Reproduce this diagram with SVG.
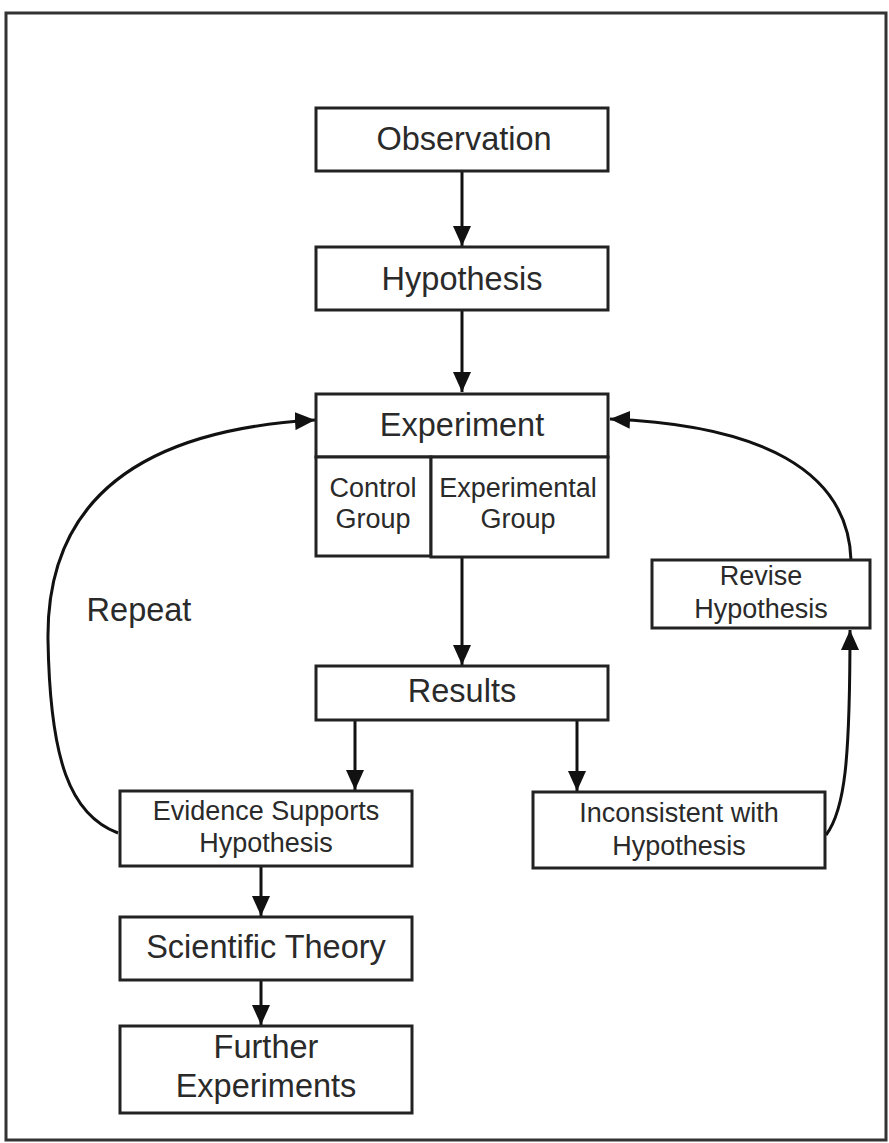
<svg xmlns="http://www.w3.org/2000/svg" width="889" height="1143" viewBox="0 0 889 1143">
<style>
.box{fill:#fff;stroke:#222;stroke-width:3}
.conn{fill:none;stroke:#111;stroke-width:3}
text{font-family:"Liberation Sans",Arial,sans-serif;fill:#2a2a2a;text-anchor:middle}
.big{font-size:32.5px}
.sm{font-size:27px}
</style>
<defs>
<marker id="ah" markerUnits="userSpaceOnUse" markerWidth="22" markerHeight="18" refX="20" refY="9" orient="auto">
<path d="M0,0 L20,9 L0,18 Z" fill="#111"/>
</marker>
</defs>
<rect x="0" y="0" width="889" height="1143" fill="#fff"/>
<rect x="6" y="13" width="880" height="1127" fill="none" stroke="#333" stroke-width="3"/>
<g id="connectors">
<line class="conn" x1="462" y1="171" x2="462" y2="246" marker-end="url(#ah)"/>
<line class="conn" x1="462" y1="310" x2="462" y2="392" marker-end="url(#ah)"/>
<line class="conn" x1="462" y1="557" x2="462" y2="665" marker-end="url(#ah)"/>
<line class="conn" x1="355" y1="720" x2="355" y2="790" marker-end="url(#ah)"/>
<line class="conn" x1="577" y1="720" x2="577" y2="791" marker-end="url(#ah)"/>
<line class="conn" x1="261" y1="866" x2="261" y2="916" marker-end="url(#ah)"/>
<line class="conn" x1="261" y1="980" x2="261" y2="1025" marker-end="url(#ah)"/>
<path class="conn" d="M118,833 C70,815 50,760 48,640 C46,500 140,430 315,420" marker-end="url(#ah)"/>
<path class="conn" d="M851,560 C848,470 760,425 610,419" marker-end="url(#ah)"/>
<path class="conn" d="M826,835 C845,810 850,760 850,630" marker-end="url(#ah)"/>
</g>
<g id="observation">
<rect class="box" x="316" y="108" width="292" height="63"/>
<text class="big" x="464" y="150">Observation</text>
</g>
<g id="hypothesis">
<rect class="box" x="316" y="247" width="292" height="63"/>
<text class="big" x="462" y="290">Hypothesis</text>
</g>
<g id="experiment">
<rect class="box" x="316" y="394" width="292" height="63"/>
<text class="big" x="462" y="436">Experiment</text>
</g>
<g id="control-group">
<rect class="box" x="316" y="457" width="115" height="99"/>
<text class="sm" x="373" y="497">Control</text>
<text class="sm" x="373" y="528">Group</text>
</g>
<g id="experimental-group">
<rect class="box" x="431" y="457" width="177" height="100"/>
<text class="sm" x="518" y="497">Experimental</text>
<text class="sm" x="518" y="528">Group</text>
</g>
<g id="results">
<rect class="box" x="316" y="666" width="292" height="54"/>
<text class="big" x="462" y="702">Results</text>
</g>
<g id="repeat-label">
<text class="big" x="139" y="621">Repeat</text>
</g>
<g id="revise">
<rect class="box" x="652" y="560" width="218" height="68"/>
<text class="sm" x="761" y="585">Revise</text>
<text class="sm" x="761" y="618">Hypothesis</text>
</g>
<g id="evidence">
<rect class="box" x="120" y="791" width="292" height="75"/>
<text class="sm" x="266" y="820">Evidence Supports</text>
<text class="sm" x="266" y="852">Hypothesis</text>
</g>
<g id="inconsistent">
<rect class="box" x="533" y="792" width="292" height="76"/>
<text class="sm" x="679" y="822">Inconsistent with</text>
<text class="sm" x="679" y="855">Hypothesis</text>
</g>
<g id="theory">
<rect class="box" x="120" y="917" width="292" height="63"/>
<text class="big" x="266" y="958">Scientific Theory</text>
</g>
<g id="further">
<rect class="box" x="120" y="1026" width="292" height="87"/>
<text class="big" x="266" y="1058">Further</text>
<text class="big" x="266" y="1097">Experiments</text>
</g>
</svg>
